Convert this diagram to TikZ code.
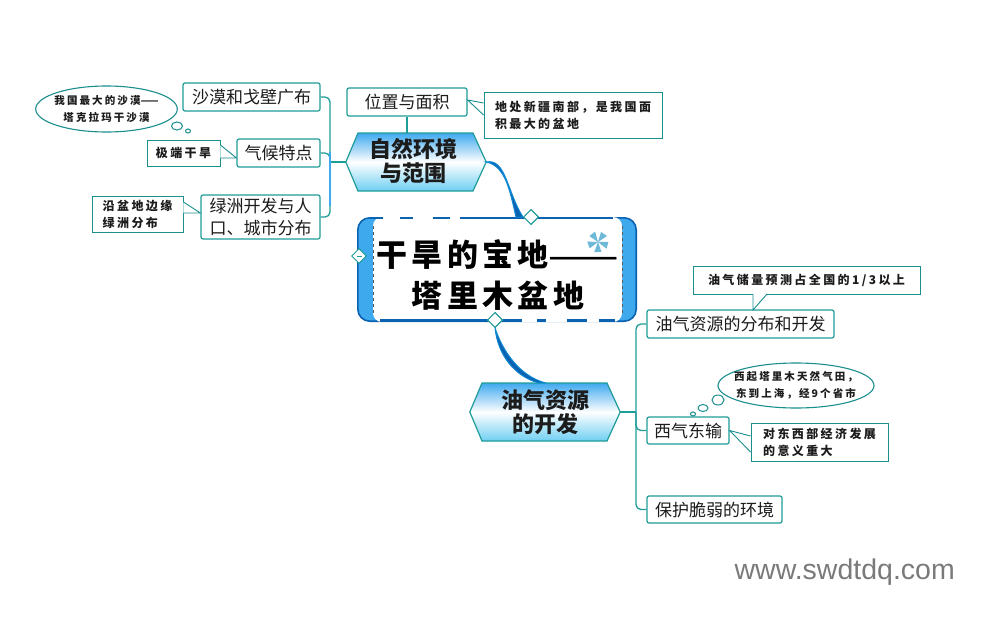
\documentclass[tikz,border=0pt]{standalone}
\usepackage{fontspec}
\setmainfont{Noto Sans CJK SC}
\newfontfamily\cjkplain{Noto Sans CJK SC}
\newfontfamily\cjknote[LetterSpace=20]{Noto Sans CJK SC}
\newfontfamily\cjktitle[LetterSpace=14]{Noto Sans CJK SC}
\newfontfamily\wmfont{Liberation Sans}
\usetikzlibrary{shapes.geometric,calc}
\definecolor{teal1}{HTML}{1E9C98}
\definecolor{teal2}{HTML}{1B8E8E}
\definecolor{blue1}{HTML}{3FA9EE}
\definecolor{blue2}{HTML}{0B62B0}
\definecolor{hexlow}{HTML}{6FCFF2}
\definecolor{pinblue}{HTML}{6FB9D8}
\definecolor{ink}{HTML}{1C1C1C}
\tikzset{
 box/.style={draw=teal1,line width=1.2pt,rounded corners=2pt,fill=white,inner sep=0pt,align=center,text=ink,font=\cjkplain\fontsize{17}{22}\selectfont},
 notebox/.style={draw=teal2,line width=.9pt,fill=white,inner sep=0pt,align=left,text=ink,font=\cjknote\bfseries\fontsize{12}{22}\selectfont},
 thought/.style={ellipse,draw=teal2,line width=1.1pt,fill=white,inner sep=0pt,align=center,text=ink,font=\cjknote\bfseries\fontsize{10.5}{17}\selectfont},
 puff/.style={ellipse,draw=teal2,line width=1pt,fill=white,inner sep=0pt},
 hexlabel/.style={inner sep=0pt,align=center,text=ink,font=\cjkplain\bfseries\fontsize{22}{24}\selectfont},
 hexshade/.style={draw=teal1,line width=1.2pt,top color=blue1,bottom color=hexlow,middle color=white},
 link/.style={draw=teal1,line width=1.3pt,rounded corners=5pt},
 tail/.style={draw=teal2,line width=.9pt,fill=white},
 flow/.style={fill=blue2,draw=cyan!70!blue,line width=1pt},
 handle/.style={diamond,draw=teal1,line width=1pt,fill=white,inner sep=0pt,minimum width=15pt,minimum height=15pt},
}
\begin{document}
\begin{tikzpicture}[x=1pt,y=-1pt]
\useasboundingbox (0,0) rectangle (984,616);
% central topic
\node[inner sep=0pt,minimum width=278pt,minimum height=103pt] (c) at (497,269.5) {};
\fill[blue1,draw=blue2,line width=1.6pt,rounded corners=12pt] (c.north west) rectangle (c.south east);
\fill[white,rounded corners=9pt] (373,217) rectangle (622,322);
\draw[black!65,line width=.8pt,dashed] (373,226) -- (373,313) (622,226) -- (622,313);
\draw[blue2,line width=2.2pt] (370,218) -- (383,218) (400,218) -- (413,218) (433,218) -- (450,218) (460,218) -- (613,218);
\draw[blue2,line width=2.2pt] (380,320.5) -- (522,320.5) (537,320.5) -- (546,320.5) (567,320.5) -- (587,320.5) (599,320.5) -- (615,320.5);
% pinwheel
\foreach \a in {0,72,144,216,288}{
 \fill[pinblue,rotate around={\a:(598,242)}] (598,242) -- (601,232) -- (607,236) -- cycle;
}
\node[inner sep=0pt,text=black,align=center,font=\cjktitle\bfseries\fontsize{31}{41}\selectfont] (title) at (498,275) {干旱的宝地{\cjkplain\mdseries\fontsize{42}{41}\selectfont\raisebox{-4pt}{——}}\\塔里木盆地};
% main topics
\node[inner sep=0pt,minimum width=140pt,minimum height=58pt] (h1) at (416,162) {};
\draw[hexshade] (h1.west) -- (358,133) -- (473,133) -- (h1.east) -- (473,191) -- (358,191) -- cycle;
\node[hexlabel] (h1t) at (413,161) {自然环境\\与范围};
\node[inner sep=0pt,minimum width=150pt,minimum height=58pt] (h2) at (545,412) {};
\draw[hexshade] (h2.west) -- (482,383) -- (607,383) -- (h2.east) -- (607,441) -- (482,441) -- cycle;
\node[hexlabel] (h2t) at (h2.center) {油气资源\\的开发};
% thick connectors
\node[handle] (d1) at (531,217) {};
\node[handle] (d2) at (359,256) {};
\node[handle] (d3) at (495,320) {};
\draw[teal1,line width=.8pt] (356.5,256) -- (361.5,256);
\fill[flow] (h1.east) .. controls (506,158) and (507,192) .. (d1.west) -- ($(d1.west)+(-7,0)$) .. controls (510,192) and (506,166) .. (h1.east) -- cycle;
\fill[flow] (d3.south) .. controls (503,352) and (520,376) .. (h2.north) -- ($(h2.north)+(-7,0)$) .. controls (515,376) and (498,356) .. (d3.south) -- cycle;
\node[handle] at (d1) {};
\node[handle] at (d3) {};
% left branch
\coordinate (t1) at (330,162);
\node[box,minimum width=137pt,minimum height=28pt] (b1) at (251.5,97) {沙漠和戈壁广布};
\node[box,minimum width=83pt,minimum height=28pt] (b2) at (278.5,153) {气候特点};
\node[box,minimum width=119pt,minimum height=44pt] (b3) at (260.5,217) {绿洲开发与人\\口、城市分布};
\node[box,minimum width=120pt,minimum height=28pt] (b4) at (407,102) {位置与面积};
\draw[link] (b1.east) -| (t1);
\draw[link] (b3.east) -| (t1);
\draw[link] (b2.east) -| (t1);
\draw[link] (h1.west) -- (t1);
\draw[blue1,line width=1.3pt] ($(t1)+(0,-10)$) -- ($(t1)+(0,44)$);
\draw[link] (b4.south) -- (b4.south |- h1.north);
% left notes
\node[notebox,minimum width=73pt,minimum height=26pt,align=center] (n2) at (183.5,153) {极端干旱};
\draw[tail] ($(n2.east)+(0,-8)$) -- ($(b2.west)+(0,5)$) -- ($(n2.east)+(0,5)$);
\node[notebox,minimum width=91pt,minimum height=36pt,font=\cjknote\bfseries\fontsize{12}{17}\selectfont] (n3) at (137.5,214) {沿盆地边缘\\绿洲分布};
\draw[tail] ($(n3.east)+(0,-12)$) -- ($(b3.west)+(0,-4)$) -- ($(n3.east)+(0,-1)$);
\node[thought,inner xsep=-2pt,minimum width=141pt,minimum height=46pt] (e1) at (106.5,109) {我国最大的沙漠{\cjkplain ——}\\塔克拉玛干沙漠};
\node[puff,minimum width=11pt,minimum height=8pt] (p1) at (177,126) {};
\node[puff,minimum width=5pt,minimum height=4pt] (p2) at (188,131) {};
% top note
\node[notebox,minimum width=178pt,minimum height=46pt,font=\cjknote\bfseries\fontsize{12}{17}\selectfont] (n4) at (573,115) {地处新疆南部，是我国面\\积最大的盆地};
\draw[tail] ($(n4.west)+(0,-12)$) -- (b4.east |- 467,100) -- (n4.west);
% right branch
\coordinate (t2) at (636,412);
\node[box,minimum width=187pt,minimum height=28pt] (r1) at (740.5,324) {油气资源的分布和开发};
\node[box,minimum width=82pt,minimum height=27pt] (r2) at (688,430.5) {西气东输};
\node[box,minimum width=135pt,minimum height=27pt] (r3) at (714.5,509.5) {保护脆弱的环境};
\draw[link] (r1.west) -| (t2);
\draw[link] (r3.west) -| (t2);
\draw[link] (r2.west) -| (t2);
\draw[link] (h2.east) -- (t2);
\node[notebox,minimum width=227pt,minimum height=28pt,align=center] (n5) at (806.5,280) {油气储量预测占全国的1/3以上};
\draw[tail] (753,294) -- (753,310) -- (767,294);
\node[notebox,minimum width=137pt,minimum height=38pt,font=\cjknote\bfseries\fontsize{12}{17}\selectfont] (n6) at (819.5,442) {对东西部经济发展\\的意义重大};
\draw[tail] ($(n6.west)+(0,-6)$) -- (r2.east) -- ($(n6.west)+(0,10)$);
\node[thought,inner xsep=-7pt,minimum width=156pt,minimum height=45pt] (e2) at (796,385.5) {西起塔里木天然气田，\\东到上海，经9个省市};
\node[puff,minimum width=12pt,minimum height=10pt] (p3) at (718,400) {};
\node[puff,minimum width=10pt,minimum height=7pt] (p4) at (703,408) {};
\node[puff,minimum width=5pt,minimum height=4pt] (p5) at (693,414) {};
% watermark
\node[inner sep=0pt,anchor=east,text=black!52,font=\wmfont\fontsize{28.5}{30}\selectfont] (wm) at (955,572) {www.swdtdq.com};
\end{tikzpicture}
\end{document}
